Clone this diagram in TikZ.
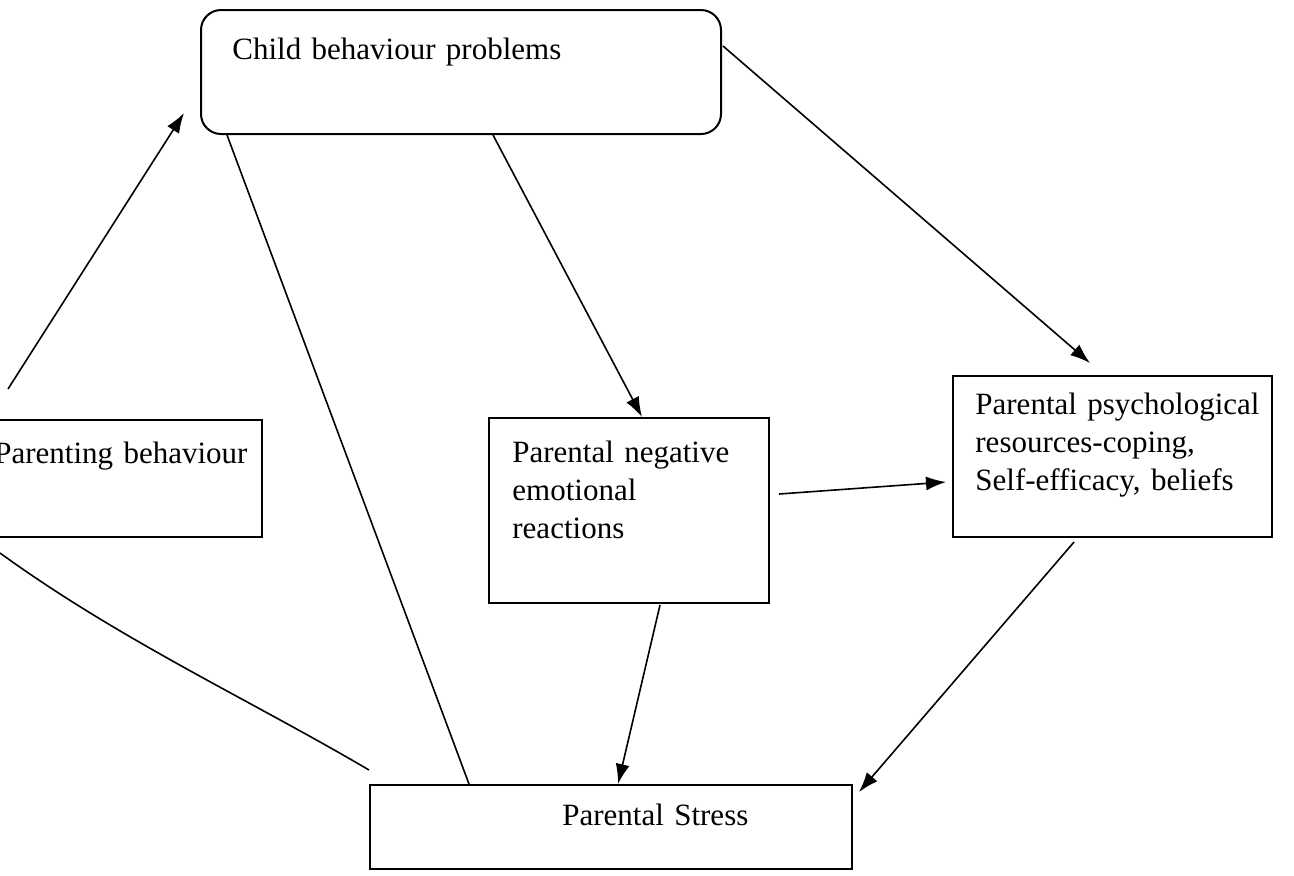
\documentclass[tikz,border=0pt]{standalone}
\usepackage{fontspec}
\setmainfont{Liberation Serif}
\usetikzlibrary{arrows.meta,fit,calc}
\begin{document}
\begin{tikzpicture}[x=0.5pt,y=-0.5pt,
  box/.style={draw,line width=1pt,inner sep=0pt},
  lbl/.style={anchor=base west,inner sep=0pt,font=\fontsize{15.5}{19.2}\selectfont,align=left,text width=200pt},
  conn/.style={line width=0.8pt},
  arr/.style={conn,-{Latex[length=10pt,width=7pt]}}]
\useasboundingbox (0,0) rectangle (1294,875);
\clip (0,0) rectangle (1294,875);
\node[box,rounded corners=10pt,fit={(201,10) (721,134)}] (cbp) {};
\node[box,fit={(-20,420) (262,537)}] (pb) {};
\node[box,fit={(489,418) (769,603)}] (pner) {};
\node[box,fit={(953,376) (1272,537)}] (ppr) {};
\node[box,fit={(370,785) (852,869)}] (ps) {};
\node[lbl] (t1) at (232,59) {Child behaviour problems};
\node[lbl] (t2) at (-6,463) {Parenting behaviour};
\node[lbl] (t3) at (512,462) {Parental negative\\emotional\\reactions};
\node[lbl] (t4) at (975,414) {Parental psychological\\resources-coping,\\Self-efficacy, beliefs};
\node[lbl] (t5) at (562,825) {Parental Stress};
\coordinate (e1) at (0,553);
\draw[arr] ($(pb.north west)+(29,-30)$) -- ($(cbp.south west)+(-16,-22)$);
\draw[conn] ($(cbp.south west)+(27,0)$) -- ($(ps.north west)+(100,0)$);
\draw[arr] ($(cbp.south west)+(293,0)$) -- ($(pner.north west)+(154,0)$);
\draw[arr] ($(cbp.north east)+(1,37)$) -- ($(ppr.north west)+(138,-12)$);
\draw[arr] ($(pner.north east)+(9,77)$) -- ($(ppr.north west)+(-6,107)$);
\draw[arr] ($(pner.south west)+(172,1)$) -- ($(ps.north west)+(249,0)$);
\draw[arr] ($(ppr.south west)+(122,4)$) -- ($(ps.north east)+(6,8)$);
\draw[conn] (e1) .. controls (120,640) and (250,700) .. ($(ps.north west)+(0,-14)$);
\end{tikzpicture}
\end{document}
